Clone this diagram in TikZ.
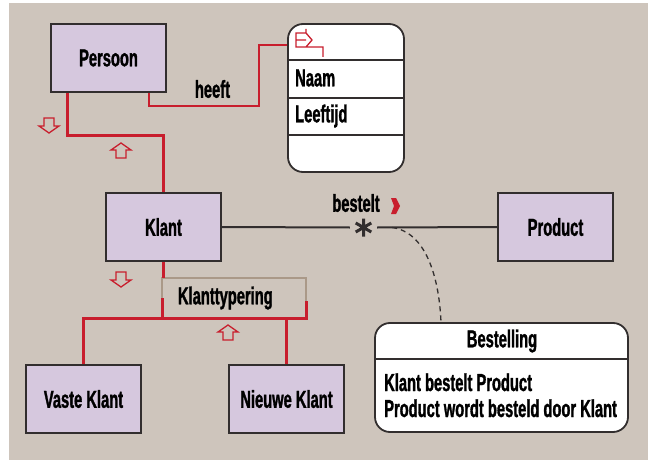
\documentclass[tikz,border=0pt]{standalone}
\usepackage{fontspec}
\setmainfont[FakeStretch=0.6,BoldFeatures={FakeBold=1.2}]{Liberation Sans}
\definecolor{achtergrond}{RGB}{206,197,188}
\definecolor{lila}{RGB}{214,200,222}
\definecolor{rood}{RGB}{200,30,45}
\definecolor{taupe}{RGB}{170,153,136}
\definecolor{rand}{RGB}{50,46,46}
\tikzset{
  klasse/.style={draw=rand,line width=1.8pt,fill=lila,minimum width=115pt,minimum height=68pt,inner sep=0pt},
  rondbox/.style={draw=rand,line width=1.8pt,fill=white,rounded corners=15pt,inner sep=0pt},
  erven/.style={draw=rood,line width=3pt},
  heeftlijn/.style={draw=rood,line width=1.4pt},
  assoc/.style={draw=rand,line width=2pt},
  inharrow/.pic={\draw[rood,line width=1.3pt,line join=miter]
      (-5,7) -- (-5,-1) -- (-10,-1) -- (0,-8) -- (10,-1) -- (5,-1) -- (5,7) -- cycle;}
}
\begin{document}
\begin{tikzpicture}[x=1pt,y=-1pt,font=\bfseries\fontsize{24.5}{26}\selectfont]
\useasboundingbox (0,0) rectangle (648,460);
\fill[achtergrond] (9,3) rectangle (648,460);

\node[klasse] (persoon) at (108.5, 58) {Persoon};
\node[klasse] (klant)   at (163.5,227) {Klant};
\node[klasse] (product) at (555.5,227) {Product};
\node[klasse] (vaste)   at ( 83.5,399) {Vaste Klant};
\node[klasse] (nieuwe)  at (286.5,399) {Nieuwe Klant};

\node[rondbox,minimum width=116pt,minimum height=148pt] (attr) at (346,98) {};
\draw[rand,line width=1.8pt]
    ([yshift=- 37pt]attr.north west) -- ([yshift=- 37pt]attr.north east)
    ([yshift=- 75pt]attr.north west) -- ([yshift=- 75pt]attr.north east)
    ([yshift=-112pt]attr.north west) -- ([yshift=-112pt]attr.north east);
\node[anchor=west,inner sep=0pt] (naam)     at (295, 78) {Naam};
\node[anchor=west,inner sep=0pt] (leeftijd) at (295,116) {Leeftijd};
\draw[rood,line width=1.3pt]
    (296,33) -- (306,33) -- (312,40) -- (306,47) -- (296,47) -- cycle
    (296,40) -- (306,40)
    (306,29) -- (306,33)
    (306,47) -- (323,47) -- (323,57);

\draw[heeftlijn] ([xshift=-18pt]persoon.south east) |- ++(110,13) |- ([yshift=-22pt]attr.north west);
\node[inner sep=0pt] (heeft) at (212.5,89) {heeft};

\draw[erven] ([xshift=17pt]persoon.south west) -- ++(0,43) -| (klant.north);
\pic[rotate=180] at ( 49,125) {inharrow};
\pic             at (121,151) {inharrow};

\node[inner sep=0pt,minimum size=27pt] (ster) at (363.5,227.5) {};
\draw[assoc] (klant.east) -- (ster.west) (ster.east) -- (product.west);
\draw[rand,line width=3pt]
    (ster.center) +(0,-9) -- +(0,9) +(30:9) -- +(210:9) +(150:9) -- +(330:9);
\node[inner sep=0pt] (bestelt) at (356,203) {bestelt};
\fill[rood] (391,198) -- (396,198) -- (400,206) -- (396,214) -- (391,214) -- (394,206) -- cycle;

\node[rondbox,minimum width=253pt,minimum height=109pt] (bestelling) at (501.5,377.5) {};
\draw[rand,line width=1.8pt]
    ([yshift=-37pt]bestelling.north west) -- ([yshift=-37pt]bestelling.north east);
\node[inner sep=0pt] (kop) at (502,341) {Bestelling};
\node[anchor=base west,inner sep=0pt] (regel1) at (384,391) {Klant bestelt Product};
\node[anchor=base west,inner sep=0pt] (regel2) at (384,417) {Product wordt besteld door Klant};
\draw[rand,line width=1.3pt,dash pattern=on 5pt off 4pt]
    ([xshift=15pt]ster.east) .. controls (425,232) and (439,275) .. ([xshift=-60.5pt]bestelling.north);

\node[draw=taupe,line width=2.4pt,outer sep=0pt,minimum width=144pt,minimum height=40pt,
      text width=112pt,inner xsep=16pt,align=left] (typering) at (234,298) {Klanttypering};
\draw[erven] (klant.south) -- (klant.south |- typering.north);
\draw[erven] (typering.south west) -- ++(0,-20);
\draw[erven] (vaste.north) |- (typering.south east) -- ++(0,-17);
\draw[erven] (nieuwe.north) -- (nieuwe.north |- typering.south);
\pic[rotate=180] at (121,279) {inharrow};
\pic             at (228,333) {inharrow};
\end{tikzpicture}
\end{document}
